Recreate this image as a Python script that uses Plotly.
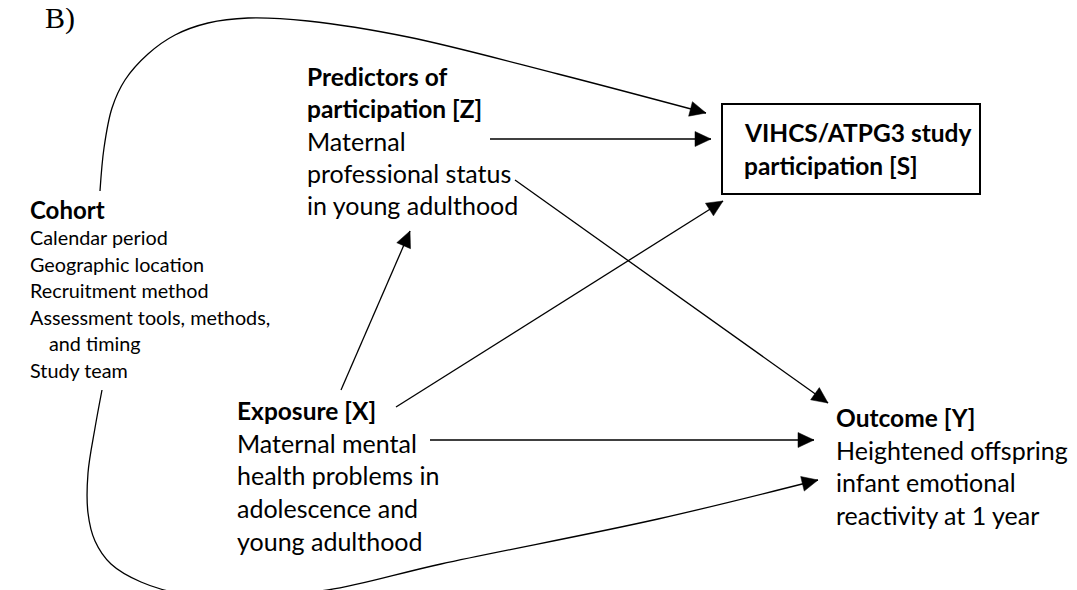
import math
import plotly.graph_objects as go

W, H = 1077, 590
SANS = "Lato"
SERIF = "Liberation Serif"

# ---- text content ----
panel_label = "B)"
cohort_title = ["Cohort"]
cohort_lines = ["Calendar period", "Geographic location", "Recruitment method",
                "Assessment tools, methods,", "and timing", "Study team"]
cohort_indent = [0, 0, 0, 0, 19, 0]
z_title = ["Predictors of", "participation [Z]"]
z_lines = ["Maternal", "professional status", "in young adulthood"]
s_title = ["VIHCS/ATPG3 study", "participation [S]"]
x_title = ["Exposure [X]"]
x_lines = ["Maternal mental", "health problems in", "adolescence and", "young adulthood"]
y_title = ["Outcome [Y]"]
y_lines = ["Heightened offspring", "infant emotional", "reactivity at 1 year"]

# ---- layout of node text blocks: (left x, first line y, line step) ----
cohort_pos = (20, 201, 26.5)
z_pos = (297, 68, 32.3)
s_pos = (734, 124, 33)
x_pos = (227, 402, 32.7)
y_pos = (826, 409, 32.7)
s_box = (714, 96, 972, 186)

# ---- edges (waypoints) ----
edge_cohort_S = [(92, 183), (96, 140), (104, 100), (117, 72), (140, 46), (167, 27),
                 (200, 15), (240, 10), (300, 13), (400, 29), (550, 66), (698, 105)]
edge_cohort_Y = [(94, 382), (87, 420), (80, 465), (80, 505), (87, 533), (103, 556),
                 (133, 574), (175, 586), (233, 589), (320, 582), (433, 556),
                 (650, 511), (810, 472)]
edge_Z_S = [(482, 131), (703, 131)]
edge_Z_Y = [(507, 172), (820, 395)]
edge_X_Z = [(333, 382), (402, 223)]
edge_X_S = [(388, 399), (715, 193)]
edge_X_Y = [(422, 432), (806, 432)]

fig = go.Figure()

def add_edge(pts, spline=False):
    xs = [p[0] for p in pts]
    ys = [p[1] for p in pts]
    fig.add_trace(go.Scatter(x=xs, y=ys, mode="lines",
                             line=dict(color="black", width=1.3,
                                       shape="spline" if spline else "linear",
                                       smoothing=1.0),
                             hoverinfo="skip", showlegend=False))
    # arrowhead at the end
    tx, ty = pts[-1]
    px, py = pts[-2]
    dx, dy = tx - px, ty - py
    n = math.hypot(dx, dy)
    ux, uy = dx / n, dy / n
    L, hw = 16, 7.5
    bx, by = tx - ux * L, ty - uy * L
    p1 = (bx - uy * hw, by + ux * hw)
    p2 = (bx + uy * hw, by - ux * hw)
    fig.add_shape(type="path", xref="x", yref="y",
                  path=f"M {tx},{ty} L {p1[0]},{p1[1]} L {p2[0]},{p2[1]} Z",
                  fillcolor="black", line=dict(color="black", width=0.5))

add_edge(edge_cohort_S, spline=True)
add_edge(edge_cohort_Y, spline=True)
add_edge(edge_Z_S)
add_edge(edge_Z_Y)
add_edge(edge_X_Z)
add_edge(edge_X_S)
add_edge(edge_X_Y)

# S box
x0, y0, x1, y1 = s_box
fig.add_shape(type="rect", xref="x", yref="y", x0=x0, y0=y0, x1=x1, y1=y1,
              line=dict(color="black", width=2), fillcolor="rgba(0,0,0,0)")

def add_lines(lines, x, y, step, size, bold=False, indents=None):
    for i, t in enumerate(lines):
        dx = indents[i] if indents else 0
        fig.add_annotation(x=x + dx, y=y + i * step, xref="x", yref="y",
                           text=f"<b>{t}</b>" if bold else t,
                           showarrow=False, xanchor="left", yanchor="middle",
                           font=dict(family=SANS, size=size, color="black"))

BODY, HEAD = 25, 24.5
cx, cy, cs = cohort_pos
add_lines(cohort_title, cx, cy, cs, 24, bold=True)
add_lines(cohort_lines, cx, cy + 28, cs, 19.8, indents=cohort_indent)

zx, zy, zs = z_pos
add_lines(z_title, zx, zy, zs, HEAD, bold=True)
add_lines(z_lines, zx, zy + 2 * zs, zs, BODY)

sx, sy, ss = s_pos
add_lines(s_title, sx, sy, ss, HEAD, bold=True)

xx, xy, xs_ = x_pos
add_lines(x_title, xx, xy, xs_, HEAD, bold=True)
add_lines(x_lines, xx, xy + xs_, xs_, BODY)

yx, yy, ys_ = y_pos
add_lines(y_title, yx, yy, ys_, HEAD, bold=True)
add_lines(y_lines, yx, yy + ys_, ys_, BODY)

fig.add_annotation(x=35, y=29, xref="x", yref="y", text=panel_label, showarrow=False,
                   xanchor="left", yanchor="bottom",
                   font=dict(family=SERIF, size=30, color="black"))

fig.update_layout(width=W, height=H, margin=dict(l=0, r=0, t=0, b=0),
                  paper_bgcolor="white", plot_bgcolor="white",
                  xaxis=dict(range=[0, W], visible=False, fixedrange=True),
                  yaxis=dict(range=[H, 0], visible=False, fixedrange=True),
                  showlegend=False)

fig.write_html("out.html")
